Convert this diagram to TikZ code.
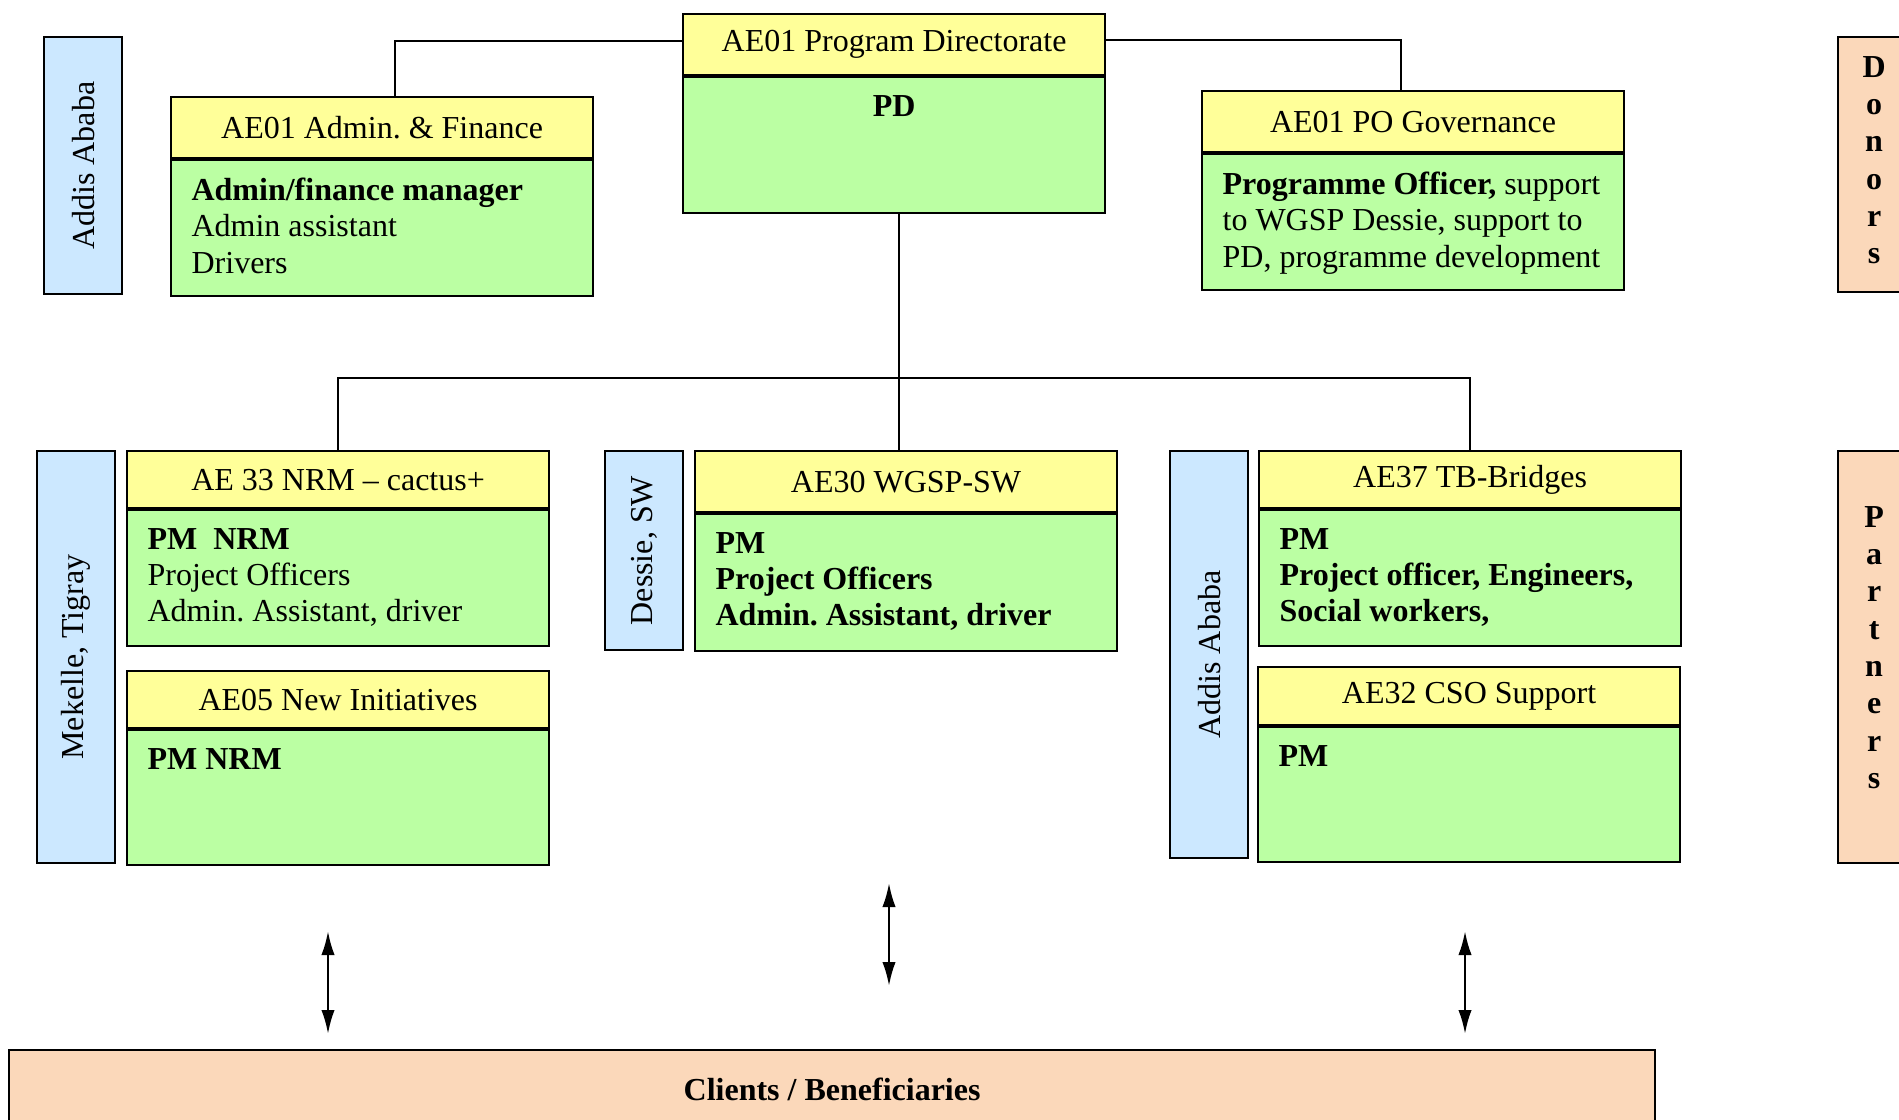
\documentclass[tikz,border=0pt]{standalone}
\usepackage{fontspec}
\setmainfont{Liberation Serif}
\usepackage{xcolor}
\usepackage{graphicx}
\usepackage{tikz}
\usetikzlibrary{positioning,arrows.meta}

\definecolor{headyellow}{RGB}{255,255,153}
\definecolor{bodygreen}{RGB}{187,255,163}
\definecolor{locblue}{RGB}{204,232,255}
\definecolor{extpeach}{RGB}{251,216,186}

\begin{document}
\fontsize{12}{13.6}\selectfont
\begin{tikzpicture}[%
  x=0.375pt, y=-0.375pt,
  head/.style={draw=black,thick,fill=headyellow,anchor=north west,minimum width=158.25pt,minimum height=22.9pt,inner sep=0pt},
  body/.style={draw=black,thick,fill=bodygreen,minimum width=158.25pt,minimum height=51pt,inner sep=0pt},
  txt/.style={anchor=north west,align=left,inner sep=0pt},
  loc/.style={draw=black,thick,fill=locblue,anchor=north west,minimum width=29.25pt,inner sep=0pt},
  ext/.style={draw=black,thick,fill=extpeach,anchor=north west,minimum width=27pt,align=center,font=\fontsize{12}{14}\selectfont\bfseries,inner sep=0pt},
  link/.style={draw=black,semithick},
  updown/.style={{Latex[length=9pt,width=5pt]}-{Latex[length=9pt,width=5pt]},line width=0.9pt}
]
\useasboundingbox (0,0) rectangle (1899,1119);
\clip (0,0) rectangle (1899,1119);

% top row: directorate, admin, governance
\node[loc, minimum height=96.4pt] (locAA) at (43,36) {\rotatebox{90}{Addis Ababa}};
\node[head] (hAdm) at (170,96) {AE01 Admin.\ \& Finance};
\node[body, below=0pt of hAdm] (bAdm) {};
\node[txt] (tAdm) at ([shift={(7.9pt,-6.9pt)}]bAdm.north west) {\textbf{Admin/finance manager}\\Admin assistant\\Drivers};

\node[head] (hPD) at (682,13) {AE01 Program Directorate};
\node[body, below=0pt of hPD] (bPD) {};
\node[anchor=base] (tPD) at ([yshift=-15pt]bPD.north) {\textbf{PD}};

\node[head] (hPO) at (1201,90) {AE01 PO Governance};
\node[body, below=0pt of hPO] (bPO) {};
\node[txt] (tPO) at ([shift={(7.9pt,-6.9pt)}]bPO.north west) {\textbf{Programme Officer,} support\\to WGSP Dessie, support to\\PD, programme development};

\node[ext, minimum height=95.6pt, text depth=3.4pt] (donors) at (1837,36) {D\\o\\n\\o\\r\\s};

% lower row: projects
\node[loc, minimum height=154.5pt] (locMT) at (36,450) {\rotatebox{90}{Mekelle, Tigray}};
\node[head, minimum height=21.4pt] (h33) at (126,450) {AE 33 NRM \textendash\ cactus+};
\node[body, below=0pt of h33] (b33) {};
\node[txt] (t33) at ([shift={(7.9pt,-6.9pt)}]b33.north west) {\textbf{PM~~NRM}\\Project Officers\\Admin.\ Assistant, driver};

\node[head, minimum height=21.4pt] (h05) at (126,670) {AE05 New Initiatives};
\node[body, minimum height=50.6pt, below=0pt of h05] (b05) {};
\node[txt] (t05) at ([shift={(7.9pt,-6.9pt)}]b05.north west) {\textbf{PM NRM}};

\node[loc, minimum height=74.6pt] (locDS) at (604,450) {\rotatebox{90}{Dessie, SW}};
\node[head] (h30) at (694,450) {AE30 WGSP-SW};
\node[body, minimum height=51.4pt, below=0pt of h30] (b30) {};
\node[txt, font=\bfseries] (t30) at ([shift={(7.9pt,-6.9pt)}]b30.north west) {PM\\Project Officers\\Admin.\ Assistant, driver};

\node[loc, minimum height=152.6pt] (locAB) at (1169,450) {\rotatebox{90}{Addis Ababa}};
\node[head, minimum height=21.4pt] (h37) at (1258,450) {AE37 TB-Bridges};
\node[body, below=0pt of h37] (b37) {};
\node[txt, font=\bfseries] (t37) at ([shift={(7.9pt,-6.9pt)}]b37.north west) {PM\\Project officer, Engineers,\\Social workers,};

\node[head, minimum height=21.75pt] (h32) at (1257,666) {AE32 CSO Support};
\node[body, minimum height=50.6pt, below=0pt of h32] (b32) {};
\node[txt] (t32) at ([shift={(7.9pt,-6.9pt)}]b32.north west) {\textbf{PM}};

\node[ext, minimum height=154.5pt, text depth=7.2pt] (partners) at (1837,450) {P\\a\\r\\t\\n\\e\\r\\s};

\node[draw=black,thick,fill=extpeach,anchor=north west,minimum width=617.25pt,minimum height=29.25pt,font=\bfseries] (clients) at (8,1049) {Clients / Beneficiaries};

% reporting lines
\draw[link] ([yshift=1.3pt]hPD.west) -| ([xshift=4.9pt]hAdm.north);
\draw[link] ([yshift=1.7pt]hPD.east) -| ([xshift=-4.5pt]hPO.north);
\coordinate (bus) at (899,378);
\draw[link] (bPD.south -| bus) -- (bus |- h30.north);
\draw[link] (h33.north) |- (bus) -| (h37.north);

% links to clients
\coordinate (up33) at (328,931);
\coordinate (dn33) at (328,1034);
\coordinate (up30) at (889,883);
\coordinate (dn30) at (889,986);
\coordinate (up37) at (1465,931);
\coordinate (dn37) at (1465,1034);
\draw[updown] (up33) -- (dn33);
\draw[updown] (up30) -- (dn30);
\draw[updown] (up37) -- (dn37);
\end{tikzpicture}
\end{document}
